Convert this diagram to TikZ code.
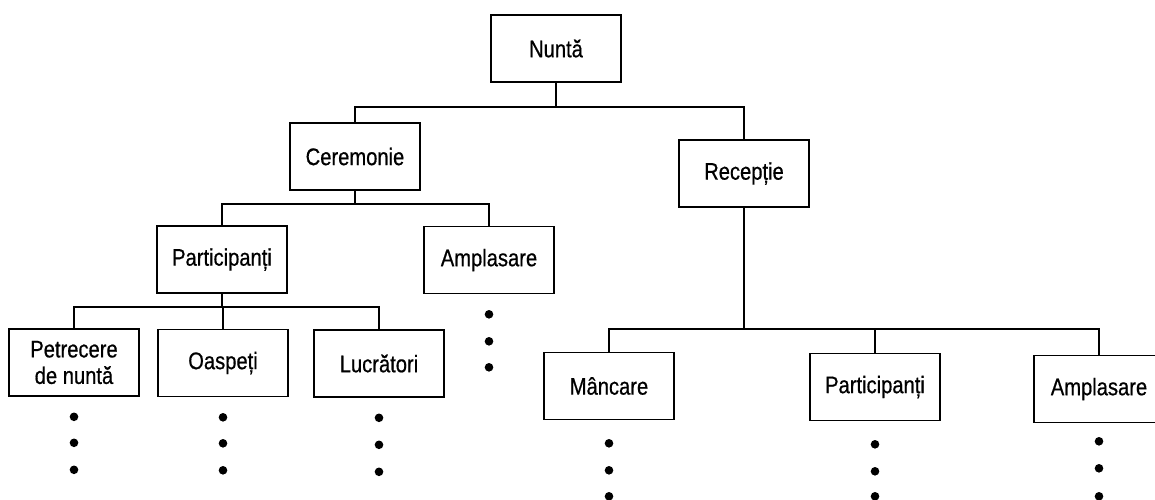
\documentclass[tikz,border=0pt]{standalone}
\usepackage{fontspec}
\setmainfont[FakeStretch=0.84,FakeBold=0.6]{Liberation Sans}
\begin{document}
\begin{tikzpicture}[x=1pt,y=-1pt,
  box/.style={draw, line width=1.6pt, minimum width=130pt, minimum height=67pt,
    inner sep=0pt, align=center, font=\fontsize{24}{26.5}\selectfont},
  link/.style={line width=2pt}]
\useasboundingbox (0,0) rectangle (1155,499);
\fill[white] (0,0) rectangle (1155,499);
\begin{scope}
\clip (0,0) rectangle (1155,499);
% level 0
\node[box] (nunta) at (556,48.5) {Nuntă};
% level 1
\node[box] (cer) at (355,156.5) {Ceremonie};
\node[box] (rec) at (744,173.5) {Recepție};
% level 2
\node[box] (partl) at (222,259.5) {Participanți};
\node[box] (ampl) at (489,260) {Amplasare};
% level 3 left
\node[box] (pet) at (74,362.5) {Petrecere\\de nuntă};
\node[box] (oas) at (223,363) {Oaspeți};
\node[box] (luc) at (379,363.5) {Lucrători};
% level 2 right
\node[box] (man) at (609,386) {Mâncare};
\node[box] (partr) at (875,387) {Participanți};
\node[box] (ampr) at (1099,389) {Amplasare};
% connectors
\draw[link] (nunta.south) -- ++(0,24) coordinate (b1) -| (cer.north);
\draw[link] (b1) -| (rec.north);
\draw[link] (cer.south) -- ++(0,13) coordinate (b2) -| (partl.north);
\draw[link] (b2) -| (ampl.north);
\draw[link] (partl.south) -- ++(0,13) coordinate (b3) -| (pet.north);
\draw[link] (b3) -| (luc.north);
\draw[link] (oas.north |- b3) -- (oas.north);
\draw[link] (rec.south) -- ++(0,121) coordinate (b4) -| (man.north);
\draw[link] (b4) -| (ampr.north);
\draw[link] (partr.north) -- (partr.north |- b4);
% continuation dots
\foreach \n/\a/\b/\c in {pet/20/46/73, oas/20/46/73, luc/20/47/74, ampl/20/47/73,
                         man/23/50/76, partr/23/50/75, ampr/18/45/73} {
  \foreach \d in {\a,\b,\c} { \fill (\n.south) ++(0,\d) circle (4.3pt); }
}
\end{scope}
\end{tikzpicture}
\end{document}
